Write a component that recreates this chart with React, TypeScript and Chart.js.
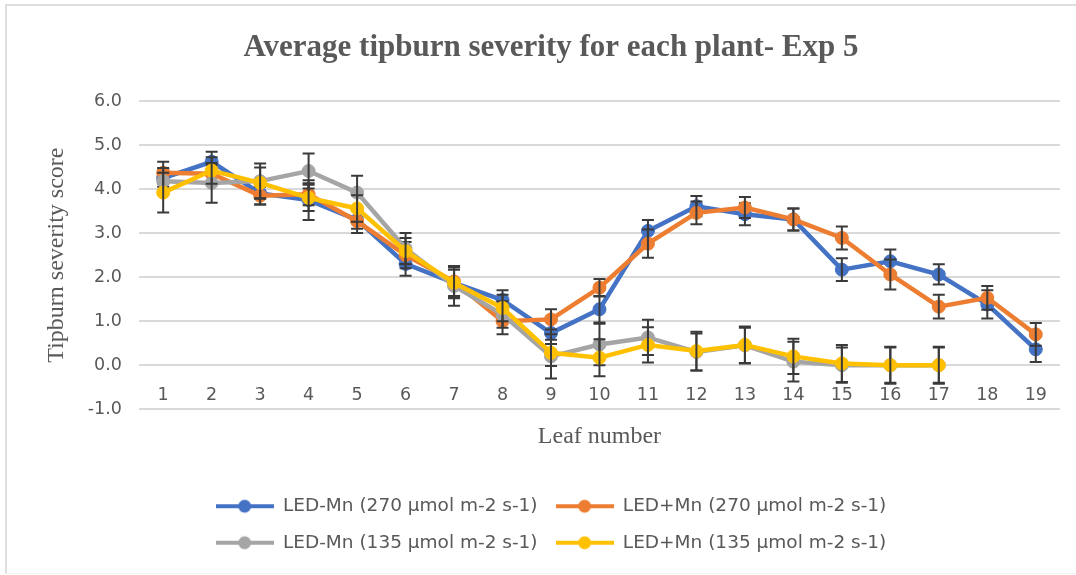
import React, { useEffect, useRef } from "react";
import { Chart, registerables } from "chart.js";

Chart.register(...registerables);

const leafNumbers = ["1", "2", "3", "4", "5", "6", "7", "8", "9", "10", "11", "12", "13", "14", "15", "16", "17", "18", "19"];

const seriesNames = [
  "LED-Mn (270 µmol m-2 s-1)",
  "LED+Mn (270 µmol m-2 s-1)",
  "LED-Mn (135 µmol m-2 s-1)",
  "LED+Mn (135 µmol m-2 s-1)",
];

const ledMinus270 = [4.25, 4.62, 3.9, 3.75, 3.3, 2.3, 1.87, 1.48, 0.73, 1.27, 3.05, 3.61, 3.43, 3.31, 2.17, 2.36, 2.06, 1.38, 0.36];
const ledPlus270 = [4.37, 4.35, 3.85, 3.88, 3.27, 2.5, 1.9, 1.0, 1.04, 1.76, 2.76, 3.46, 3.58, 3.31, 2.89, 2.06, 1.33, 1.53, 0.7];
const ledMinus135 = [4.18, 4.14, 4.18, 4.41, 3.92, 2.65, 1.8, 1.15, 0.2, 0.47, 0.63, 0.3, 0.45, 0.08, 0.0, 0.0, 0.0];
const ledPlus135 = [3.92, 4.42, 4.14, 3.8, 3.56, 2.59, 1.87, 1.3, 0.28, 0.17, 0.46, 0.32, 0.46, 0.2, 0.04, 0.0, 0.0];

const errMinus270 = [0.2, 0.23, 0.25, 0.45, 0.2, 0.27, 0.3, 0.22, 0.25, 0.3, 0.25, 0.23, 0.25, 0.25, 0.26, 0.27, 0.23, 0.32, 0.29];
const errPlus270 = [0.25, 0.2, 0.2, 0.25, 0.27, 0.3, 0.35, 0.3, 0.23, 0.2, 0.32, 0.26, 0.24, 0.25, 0.26, 0.34, 0.27, 0.27, 0.26];
const errMinus135 = [0.3, 0.45, 0.4, 0.4, 0.38, 0.35, 0.45, 0.3, 0.5, 0.47, 0.4, 0.42, 0.4, 0.45, 0.4, 0.4, 0.4];
const errPlus135 = [0.45, 0.3, 0.35, 0.3, 0.3, 0.3, 0.35, 0.3, 0.3, 0.42, 0.4, 0.44, 0.42, 0.4, 0.42, 0.42, 0.42];

const seriesColors = ["#4472C4", "#ED7D31", "#A5A5A5", "#FFC000"];

const TEXT = "#595959";
const SANS = "'DejaVu Sans', sans-serif";
const SERIF = "'Liberation Serif', 'Times New Roman', serif";

function legendIcon(color: string): HTMLCanvasElement {
  const c = document.createElement("canvas");
  c.width = 58;
  c.height = 16;
  const ctx = c.getContext("2d")!;
  ctx.strokeStyle = color;
  ctx.lineWidth = 4;
  ctx.beginPath();
  ctx.moveTo(0, 8);
  ctx.lineTo(58, 8);
  ctx.stroke();
  ctx.fillStyle = color;
  ctx.beginPath();
  ctx.arc(29, 8, 6.5, 0, Math.PI * 2);
  ctx.fill();
  return c;
}

const errorBarPlugin = {
  id: "errorBars",
  afterDatasetDraw(chart: any, args: any) {
    const ds = chart.data.datasets[args.index] as any;
    const errs: number[] = ds.errors;
    if (!errs) return;
    const yScale = chart.scales.y;
    const ctx = chart.ctx;
    ctx.save();
    ctx.strokeStyle = "#3a3a3a";
    ctx.lineWidth = 2;
    args.meta.data.forEach((pt: any, i: number) => {
      const v = ds.data[i];
      if (v == null || errs[i] == null) return;
      const x = pt.x;
      const yTop = yScale.getPixelForValue(v + errs[i]);
      const yBot = yScale.getPixelForValue(v - errs[i]);
      ctx.beginPath();
      ctx.moveTo(x, yTop);
      ctx.lineTo(x, yBot);
      ctx.moveTo(x - 6, yTop);
      ctx.lineTo(x + 6, yTop);
      ctx.moveTo(x - 6, yBot);
      ctx.lineTo(x + 6, yBot);
      ctx.stroke();
    });
    ctx.restore();
  },
};

export default function App() {
  const ref = useRef<HTMLCanvasElement>(null);

  useEffect(() => {
    const values = [ledMinus270, ledPlus270, ledMinus135, ledPlus135];
    const errors = [errMinus270, errPlus270, errMinus135, errPlus135];
    const icons = seriesColors.map((c) => legendIcon(c));
    const chart = new Chart(ref.current!, {
      type: "line",
      data: {
        labels: leafNumbers,
        datasets: values.map((d, i) => ({
          label: seriesNames[i],
          data: d,
          errors: errors[i],
          borderColor: seriesColors[i],
          backgroundColor: seriesColors[i],
          pointBackgroundColor: seriesColors[i],
          pointBorderColor: seriesColors[i],
          borderWidth: 4.5,
          pointRadius: 6.5,
          pointBorderWidth: 1,
          tension: 0,
          order: 4 - i,
          xAxisID: "x",
          yAxisID: "y",
        })) as any,
      },
      options: {
        responsive: false,
        animation: false,
        layout: { padding: { left: 42, right: 16, top: 0, bottom: 13 } },
        plugins: {
          tooltip: { enabled: false },
          title: {
            display: true,
            text: "Average tipburn severity for each plant- Exp 5",
            color: TEXT,
            font: { family: SERIF, size: 31, weight: "bold" },
            padding: { top: 29, bottom: 34.8 },
          },
          legend: {
            position: "bottom",
            maxWidth: 760,
            labels: {
              usePointStyle: true,
              pointStyleWidth: 58,
              boxHeight: 16,
              padding: 18,
              color: TEXT,
              font: { family: SANS, size: 18.5 },
              generateLabels: () =>
                seriesNames.map((name, i) => ({
                  text: name,
                  fillStyle: seriesColors[i],
                  strokeStyle: seriesColors[i],
                  lineWidth: 0,
                  pointStyle: icons[i],
                  hidden: false,
                  datasetIndex: i,
                  fontColor: TEXT,
                })) as any,
            },
          },
        },
        scales: {
          x: {
            type: "category",
            offset: true,
            grid: { display: false, drawTicks: false },
            border: { display: false },
            ticks: { display: false },
            title: {
              display: true,
              text: "Leaf number",
              color: TEXT,
              font: { family: SERIF, size: 24 },
              padding: { top: 13.6, bottom: 27.4 },
            },
          },
          x2: {
            type: "category",
            labels: leafNumbers,
            position: { y: 0 } as any,
            offset: true,
            grid: { display: false, drawTicks: false },
            border: { display: false },
            ticks: {
              color: TEXT,
              font: { family: SANS, size: 17.5 },
              padding: 20,
              maxRotation: 0,
              autoSkip: false,
            },
          },
          y: {
            min: -1,
            max: 6,
            ticks: {
              stepSize: 1,
              color: TEXT,
              font: { family: SANS, size: 17.5 },
              padding: 17,
              callback: (v: any) => Number(v).toFixed(1),
            },
            grid: { color: "#d9d9d9", lineWidth: 2, drawTicks: false },
            border: { display: false },
            title: {
              display: true,
              text: "Tipburn severity score",
              color: TEXT,
              font: { family: SERIF, size: 24 },
              padding: { top: 0, bottom: 0 },
            },
          },
        },
      } as any,
      plugins: [errorBarPlugin],
    });
    return () => chart.destroy();
  }, []);

  return (
    <div style={{ position: "fixed", left: 0, top: 0, width: 1076, height: 575, background: "#fff" }}>
      <div
        style={{
          position: "absolute",
          left: 5,
          top: 4,
          width: 1071,
          height: 567,
          borderLeft: "2px solid #dedede",
          borderTop: "2px solid #dedede",
          borderBottom: "1px solid #f2f2f2",
        }}
      />
      <canvas ref={ref} width={1076} height={575} style={{ position: "absolute", left: 0, top: 0 }} />
    </div>
  );
}
